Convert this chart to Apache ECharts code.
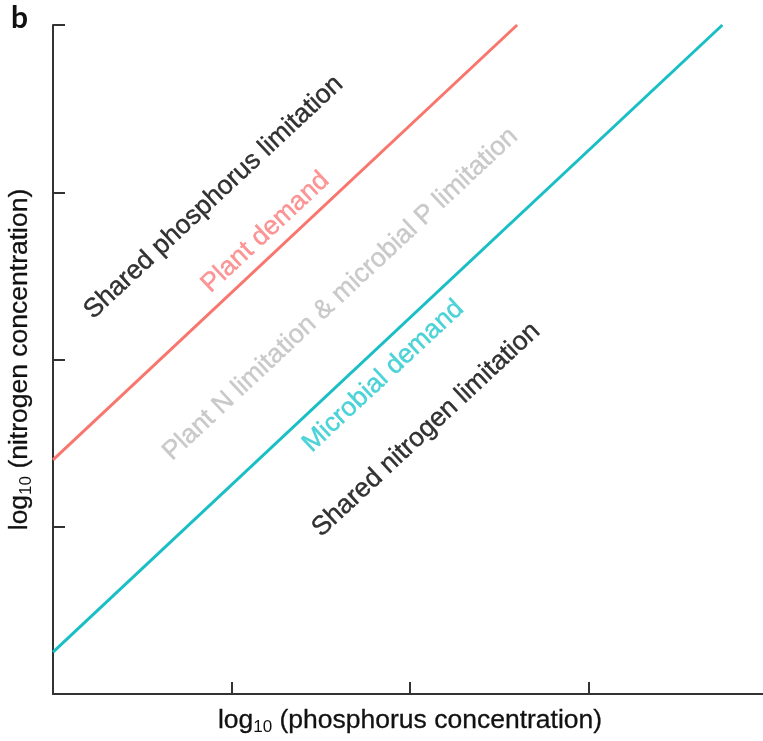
<!DOCTYPE html>
<html>
<head>
<meta charset="utf-8">
<script src="https://cdn.jsdelivr.net/npm/echarts@6/dist/echarts.min.js"></script>
<style>
  html, body { margin: 0; padding: 0; background: #fff; }
  #chart { width: 763px; height: 741px; }
</style>
</head>
<body>
<div id="chart"></div>
<script>
// log10 axes, arbitrary units (no tick labels)
var xTicks = [0, 1, 2, 3, 4];
var yTicks = [0, 1, 2, 3, 4];

// demand lines (start, end)
var plantDemand = [[0, 1.4], [2.6, 4]];
var microbialDemand = [[0, 0.25], [3.75, 4]];

// region / line labels: [x, y, text]
var blackLabels = [
  [0.9, 2.97, 'Shared phosphorus limitation'],
  [2.09, 1.58, 'Shared nitrogen limitation']
];
var plantLabel = [[1.19, 2.76, 'Plant demand']];
var grayLabel = [[1.61, 2.39, 'Plant N limitation & microbial P limitation']];
var microbialLabel = [[1.85, 1.9, 'Microbial demand']];

var RED = '#f8766d';
var CYAN = '#19bfc4';
var FONT = 'Liberation Sans';

var myChart = echarts.init(document.getElementById('chart'));

function labelSeries(data, color) {
  return {
    type: 'scatter',
    silent: true,
    symbolSize: 0,
    data: data,
    label: {
      show: true,
      position: 'inside',
      rotate: 43,
      align: 'center',
      verticalAlign: 'middle',
      fontFamily: FONT,
      fontSize: 26.5,
      color: color,
      textBorderColor: color,
      textBorderWidth: 0.4,
      formatter: function (p) { return p.data[2]; }
    },
    z: 5
  };
}

function axisName(word) {
  return '{t|log}{s|10}{t| (' + word + ' concentration)}';
}

var richName = {
  t: { fontFamily: FONT, fontSize: 26.5, color: '#111', textBorderColor: '#111', textBorderWidth: 0.3 },
  s: { fontFamily: FONT, fontSize: 17, color: '#111', padding: [13, 0, 0, 0] }
};

var option = {
  backgroundColor: '#fff',
  animation: false,
  grid: { left: 53, right: -4, top: 25, bottom: 47, outerBoundsMode: 'none', containLabel: false },
  graphic: [{
    type: 'text',
    left: 11,
    top: 3,
    style: { text: 'b', fontFamily: 'Lato', fontWeight: 'bold', fontSize: 30, fill: '#111' }
  }],
  xAxis: {
    type: 'value',
    min: xTicks[0],
    max: xTicks[xTicks.length - 1],
    interval: 1,
    name: axisName('phosphorus'),
    nameLocation: 'middle',
    nameGap: 12,
    nameTextStyle: { rich: richName },
    splitLine: { show: false },
    axisLine: { lineStyle: { color: '#333', width: 2 } },
    axisTick: { show: true, inside: true, length: 12, lineStyle: { color: '#333', width: 2 } },
    axisLabel: { show: false }
  },
  yAxis: {
    type: 'value',
    min: yTicks[0],
    max: yTicks[yTicks.length - 1],
    interval: 1,
    name: axisName('nitrogen'),
    nameLocation: 'middle',
    nameGap: 18,
    nameTextStyle: { rich: richName },
    splitLine: { show: false },
    axisLine: { lineStyle: { color: '#333', width: 2 } },
    axisTick: { show: true, inside: true, length: 12, lineStyle: { color: '#333', width: 2 } },
    axisLabel: { show: false }
  },
  series: [
    {
      name: 'Plant demand',
      type: 'line',
      data: plantDemand,
      symbol: 'none',
      silent: true,
      lineStyle: { color: RED, width: 3 }
    },
    {
      name: 'Microbial demand',
      type: 'line',
      data: microbialDemand,
      symbol: 'none',
      silent: true,
      lineStyle: { color: CYAN, width: 3 }
    },
    labelSeries(blackLabels, '#000'),
    labelSeries(plantLabel, '#fb7a7a'),
    labelSeries(grayLabel, '#bdbdbd'),
    labelSeries(microbialLabel, '#22c8ce')
  ]
};

myChart.setOption(option);
</script>
</body>
</html>
